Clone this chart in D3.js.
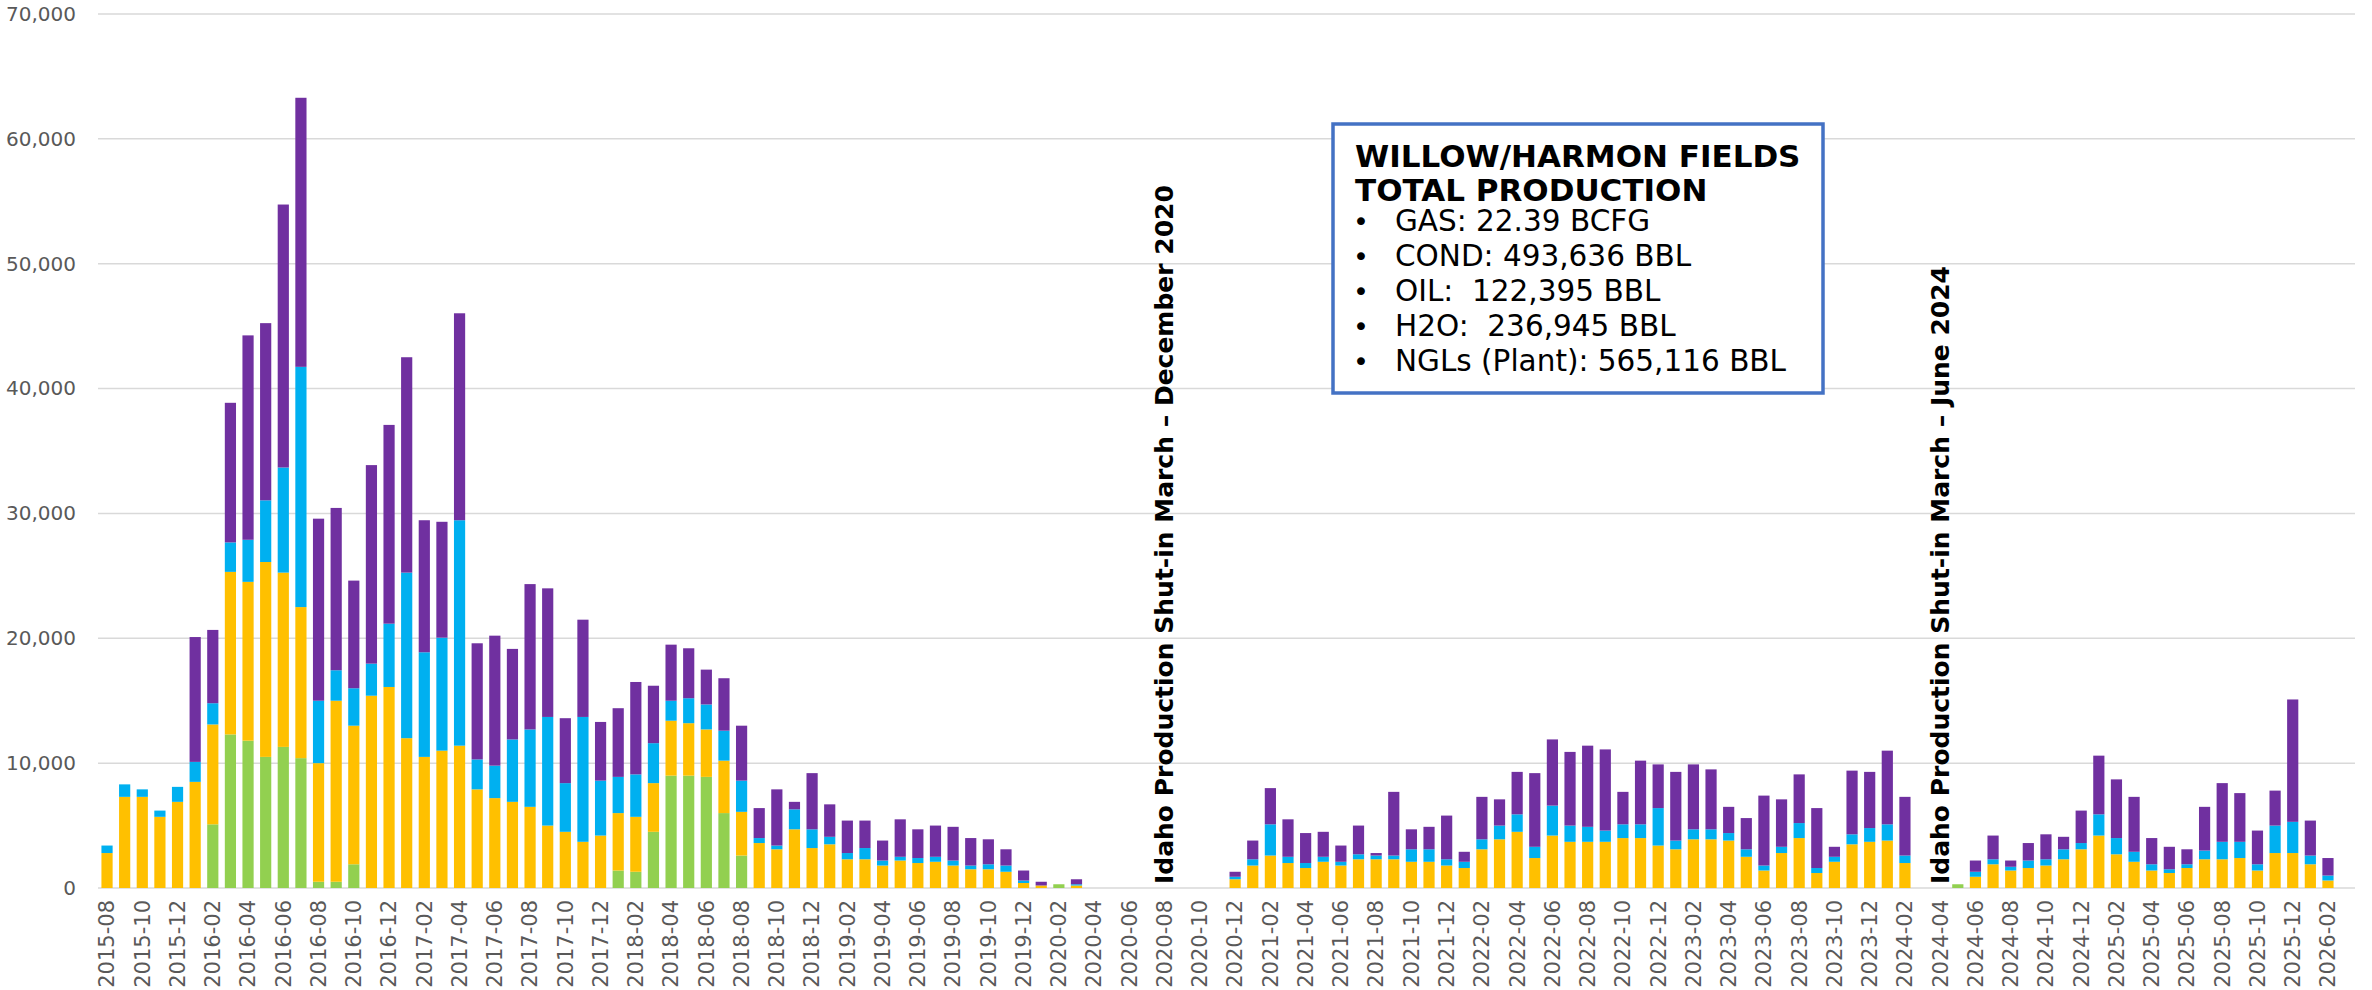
<!DOCTYPE html>
<html>
<head>
<meta charset="utf-8">
<script src="https://cdn.jsdelivr.net/npm/d3@7/dist/d3.min.js"></script>
<style>
  body { margin: 0; background: #fff; }
  svg { display: block; font-family: "DejaVu Sans", Verdana, sans-serif; }
</style>
</head>
<body>
<svg id="chart"></svg>
<script>
// months 2015-08 .. 2026-02
const months = [
  "2015-08","2015-09","2015-10","2015-11","2015-12",
  "2016-01","2016-02","2016-03","2016-04","2016-05","2016-06","2016-07","2016-08","2016-09","2016-10","2016-11","2016-12",
  "2017-01","2017-02","2017-03","2017-04","2017-05","2017-06","2017-07","2017-08","2017-09","2017-10","2017-11","2017-12",
  "2018-01","2018-02","2018-03","2018-04","2018-05","2018-06","2018-07","2018-08","2018-09","2018-10","2018-11","2018-12",
  "2019-01","2019-02","2019-03","2019-04","2019-05","2019-06","2019-07","2019-08","2019-09","2019-10","2019-11","2019-12",
  "2020-01","2020-02","2020-03","2020-04","2020-05","2020-06","2020-07","2020-08","2020-09","2020-10","2020-11","2020-12",
  "2021-01","2021-02","2021-03","2021-04","2021-05","2021-06","2021-07","2021-08","2021-09","2021-10","2021-11","2021-12",
  "2022-01","2022-02","2022-03","2022-04","2022-05","2022-06","2022-07","2022-08","2022-09","2022-10","2022-11","2022-12",
  "2023-01","2023-02","2023-03","2023-04","2023-05","2023-06","2023-07","2023-08","2023-09","2023-10","2023-11","2023-12",
  "2024-01","2024-02","2024-03","2024-04","2024-05","2024-06","2024-07","2024-08","2024-09","2024-10","2024-11","2024-12",
  "2025-01","2025-02","2025-03","2025-04","2025-05","2025-06","2025-07","2025-08","2025-09","2025-10","2025-11","2025-12",
  "2026-01","2026-02"
];

// segment values, bottom to top
const green = [
  0,0,0,0,0,
  0,5100,12300,11800,10500,11300,10400,500,500,1900,0,0,
  0,0,0,0,0,0,0,0,0,0,0,0,
  1400,1300,4500,9000,9000,8900,6000,2600,0,0,0,0,
  0,0,0,0,0,0,0,0,0,0,0,0,
  0,300,0,0,0,0,0,0,0,0,0,0,
  0,0,0,0,0,0,0,0,0,0,0,0,
  0,0,0,0,0,0,0,0,0,0,0,0,
  0,0,0,0,0,0,0,0,0,0,0,0,
  0,0,0,0,300,0,0,0,0,0,0,0,
  0,0,0,0,0,0,0,0,0,0,0,0,
  0,0
];
const yellow = [
  2800,7300,7300,5700,6900,
  8500,8000,13020,12720,15610,13960,12100,9500,14500,11100,15400,16100,
  12000,10500,11000,11400,7900,7200,6900,6500,5000,4500,3700,4200,
  4600,4400,3900,4400,4200,3800,4200,3500,3600,3100,4700,3200,
  3500,2300,2300,1800,2200,2000,2100,1800,1500,1500,1300,400,
  200,0,200,0,0,0,0,0,0,0,0,700,
  1800,2600,2000,1600,2100,1800,2300,2300,2300,2100,2100,1800,
  1600,3100,3900,4500,2400,4200,3700,3700,3700,4000,4000,3400,
  3100,3900,3900,3800,2500,1400,2800,4000,1200,2100,3500,3700,
  3800,2000,0,0,0,900,1900,1400,1600,1800,2300,3100,
  4200,2700,2100,1400,1200,1600,2300,2300,2400,1400,2800,2800,
  1900,600
];
const blue = [
  600,1000,600,500,1200,
  1600,1700,2360,3370,4940,8420,19240,5000,2440,3000,2570,5070,
  13260,8380,9050,18055,2400,2600,5000,6200,8700,3900,10000,4400,
  2900,3400,3200,1600,2000,2000,2400,2500,400,300,1600,1500,
  600,500,900,400,300,400,400,400,300,400,500,200,
  0,0,100,0,0,0,0,0,0,0,0,200,
  500,2500,500,400,400,300,400,300,300,1000,1000,500,
  500,800,1100,1400,900,2400,1300,1200,900,1100,1100,3000,
  700,800,800,600,600,400,500,1200,400,400,800,1100,
  1300,600,0,0,0,400,400,300,600,500,800,500,
  1700,1300,800,500,300,300,700,1400,1300,500,2200,2500,
  700,400
];
const purple = [
  0,0,0,0,0,
  10000,5870,11180,16370,14190,21060,21550,14580,13000,8620,15900,15920,
  17250,10575,9280,16575,9300,10410,7250,11640,10300,5200,7790,4700,
  5500,7400,4600,4490,4000,2790,4200,4400,2400,4500,600,4500,
  2600,2600,2200,1600,3000,2300,2500,2700,2200,2000,1300,800,
  300,0,400,0,0,0,0,0,0,0,0,400,
  1500,2900,3000,2400,2000,1300,2300,200,5100,1600,1800,3500,
  800,3400,2100,3400,5900,5300,5900,6500,6500,2600,5100,3500,
  5500,5200,4800,2100,2500,5600,3800,3900,4800,800,5100,4500,
  5900,4700,0,0,0,900,1900,500,1400,2000,1000,2600,
  4700,4700,4400,2100,1800,1200,3500,4700,3900,2700,2800,9800,
  2800,1400
];

const yTicks = [0, 10000, 20000, 30000, 40000, 50000, 60000, 70000];
const boxTitle = ["WILLOW/HARMON FIELDS", "TOTAL PRODUCTION"];
const boxLines = ["GAS: 22.39 BCFG", "COND: 493,636 BBL", "OIL:  122,395 BBL", "H2O:  236,945 BBL", "NGLs (Plant): 565,116 BBL"];
const notes = [
  { at: "2020-08", text: "Idaho Production Shut-in March \u2013 December 2020" },
  { at: "2024-04", text: "Idaho Production Shut-in March \u2013 June 2024" }
];

const keys = ["green", "yellow", "blue", "purple"];
const colors = { green: "#92D050", yellow: "#FFC000", blue: "#00B0F0", purple: "#7030A0" };

const W = 2372, H = 990;
const margin = { top: 14, right: 17, bottom: 102, left: 98 };
const width = W - margin.left - margin.right;
const height = H - margin.top - margin.bottom;

const svg = d3.select("#chart").attr("width", W).attr("height", H);
const g = svg.append("g").attr("transform", `translate(${margin.left},${margin.top})`);

const rows = months.map((m, i) => ({ month: m, green: green[i], yellow: yellow[i], blue: blue[i], purple: purple[i] }));
const series = d3.stack().keys(keys)(rows);

const x = d3.scaleBand().domain(months).range([-3, width - 15]).padding(0.365);
const y = d3.scaleLinear().domain([0, 70000]).range([height, 0]);

// gridlines
g.append("g")
  .selectAll("line")
  .data(yTicks)
  .join("line")
  .attr("x1", 0)
  .attr("x2", width)
  .attr("y1", (d) => y(d))
  .attr("y2", (d) => y(d))
  .attr("stroke", "#D9D9D9")
  .attr("stroke-width", 1.5);

// y axis labels
const yAxis = d3.axisLeft(y).tickValues(yTicks).tickFormat(d3.format(",")).tickSize(0).tickPadding(22);
g.append("g").call(yAxis)
  .call((a) => a.select(".domain").remove())
  .selectAll("text")
  .attr("font-size", 20)
  .attr("font-family", "DejaVu Sans, Verdana, sans-serif")
  .attr("fill", "#595959");

// x axis labels (every other month)
const xAxis = d3.axisBottom(x).tickValues(months.filter((m, i) => i % 2 === 0)).tickSize(0).tickPadding(0);
g.append("g")
  .attr("transform", `translate(0,${height})`)
  .call(xAxis)
  .call((a) => a.select(".domain").remove())
  .selectAll("text")
  .attr("font-size", 21)
  .attr("font-family", "DejaVu Sans, Verdana, sans-serif")
  .attr("fill", "#595959")
  .attr("transform", "rotate(-90)")
  .attr("text-anchor", "end")
  .attr("x", -12)
  .attr("y", 0)
  .attr("dy", "0.35em");

// stacked bars
g.append("g")
  .selectAll("g")
  .data(series)
  .join("g")
  .attr("fill", (s) => colors[s.key])
  .selectAll("rect")
  .data((s) => s.filter((d) => d[1] - d[0] > 0))
  .join("rect")
  .attr("x", (d) => x(d.data.month))
  .attr("y", (d) => y(d[1]))
  .attr("width", x.bandwidth())
  .attr("height", (d) => y(d[0]) - y(d[1]));

// shut-in notes
g.append("g")
  .selectAll("text")
  .data(notes)
  .join("text")
  .attr("transform", (d) => `translate(${x(d.at) + x.bandwidth() / 2},${height - 4}) rotate(-90)`)
  .attr("dominant-baseline", "central")
  .attr("font-size", 25)
  .attr("font-weight", "bold")
  .attr("fill", "#000")
  .text((d) => d.text);

// total production box
const box = svg.append("g").attr("transform", "translate(1333,124)");
box.append("rect")
  .attr("width", 490)
  .attr("height", 269)
  .attr("fill", "#fff")
  .attr("stroke", "#4472C4")
  .attr("stroke-width", 3.5);

box.selectAll(".title")
  .data(boxTitle)
  .join("text")
  .attr("class", "title")
  .attr("x", 22)
  .attr("y", (d, i) => 43 + i * 34)
  .attr("font-size", 31)
  .attr("font-weight", "bold")
  .attr("fill", "#000")
  .text((d) => d);

const items = box.selectAll(".item")
  .data(boxLines)
  .join("g")
  .attr("class", "item")
  .attr("transform", (d, i) => `translate(0,${107 + i * 35})`);
items.append("text")
  .attr("x", 20)
  .attr("font-size", 27)
  .attr("fill", "#000")
  .text("\u2022");
items.append("text")
  .attr("x", 62)
  .attr("font-size", 29.5)
  .attr("fill", "#000")
  .style("white-space", "pre")
  .text((d) => d);
</script>
</body>
</html>
